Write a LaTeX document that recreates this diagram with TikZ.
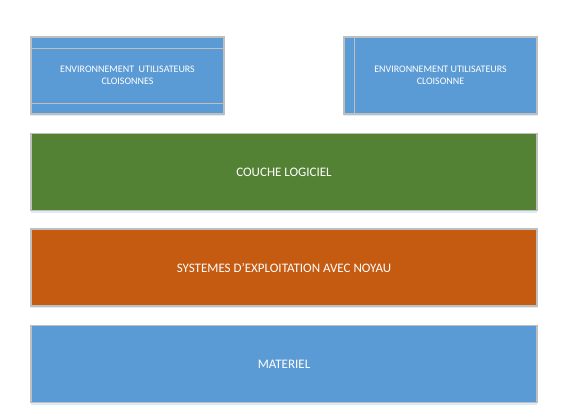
\documentclass[tikz,border=0pt]{standalone}
\usepackage{fontspec}
\setmainfont{Carlito}
\usepackage{tikz}
\usetikzlibrary{shadows}
\definecolor{envBlue}{HTML}{5B9BD5}
\definecolor{logicielGreen}{HTML}{548235}
\definecolor{noyauOrange}{HTML}{C55A11}
\definecolor{layerBorder}{HTML}{BFBFBF}
\definecolor{layerShadow}{HTML}{DDEBF7}

\begin{document}
\begin{tikzpicture}[
  x=1pt,
  y=-1pt,
  every layer/.style={
    draw=layerBorder,
    line width=1.2pt,
    text=white,
    align=center,
    inner sep=0pt,
    drop shadow={shadow xshift=0pt, shadow yshift=-2pt, fill=layerShadow, opacity=1},
  },
  layer/.style={
    every layer,
    minimum width=506pt,
    minimum height=77pt,
    font=\fontsize{13}{15}\selectfont,
  },
  env/.style={
    every layer,
    fill=envBlue,
    minimum width=193pt,
    minimum height=77pt,
    font=\fontsize{10}{12}\selectfont,
  },
  partition/.style={
    draw=layerBorder,
    line width=1.2pt
  }
]
\useasboundingbox (0,0) rectangle (582,420);
% couches du haut
\node[env] (envA) at (127.5,75.5) {ENVIRONNEMENT\ \ UTILISATEURS\\CLOISONNES};
\node[env] (envB) at (440.5,75.5) {ENVIRONNEMENT UTILISATEURS\\CLOISONNE};
\draw[partition] ([yshift=-12pt]envA.north west) -- ([yshift=-12pt]envA.north east);
\draw[partition] ([yshift=11pt]envA.south west) -- ([yshift=11pt]envA.south east);
\draw[partition] ([xshift=11pt]envB.north west) -- ([xshift=11pt]envB.south west);
% couches
\node[layer,fill=logicielGreen] (logiciel) at (284,172) {COUCHE LOGICIEL};
\node[layer,fill=noyauOrange] (noyau) at (284,267.5) {SYSTEMES D'EXPLOITATION AVEC NOYAU};
\node[layer,fill=envBlue] (materiel) at (284,364) {MATERIEL};
\end{tikzpicture}
\end{document}
